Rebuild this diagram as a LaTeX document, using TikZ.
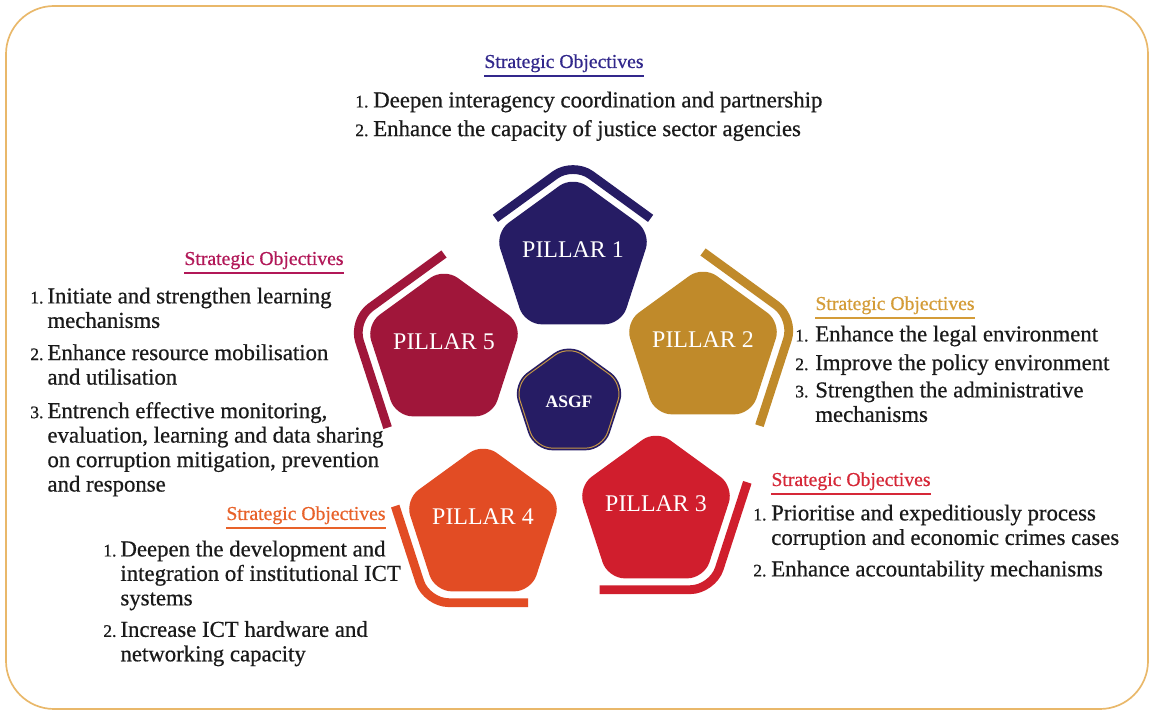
\documentclass[tikz,border=0pt]{standalone}
\usepackage{fontspec}
\setmainfont{Liberation Serif}
\newfontfamily\objfont{Liberation Serif}[FakeBold=0.6]
\usetikzlibrary{calc,shapes.geometric}
\definecolor{pillarnavy}{RGB}{38,28,100}
\definecolor{pillargold}{RGB}{192,138,42}
\definecolor{pillarred}{RGB}{208,30,45}
\definecolor{pillarorange}{RGB}{226,76,36}
\definecolor{pillarcrimson}{RGB}{160,22,58}
\definecolor{asgfgold}{RGB}{196,150,70}
\definecolor{framegold}{RGB}{233,184,106}
\definecolor{headnavy}{RGB}{50,40,140}
\definecolor{headcrimson}{RGB}{178,24,88}
\definecolor{headgold}{RGB}{212,156,56}
\definecolor{headred}{RGB}{214,40,56}
\definecolor{headorange}{RGB}{232,98,42}
\definecolor{bodytext}{RGB}{26,26,26}
\newcommand{\objnum}[1]{{\fontsize{12.5}{14}\selectfont #1.}}
\newcommand{\pillarlabel}[1]{\makebox[0pt]{\smash{#1}}}

\begin{document}
\begin{tikzpicture}[x=0.025cm, y=0.025cm,
        pillar/.style={regular polygon, regular polygon sides=5, minimum size=4.1cm, inner sep=0pt, rounded corners=0.42cm, text=white, font=\fontsize{17}{20}\selectfont},
        bracket/.style={line width=0.22cm, rounded corners=0.55cm},
        heading/.style={font=\objfont\fontsize{14}{16}\selectfont, inner xsep=0pt, inner ysep=2.5pt, anchor=base},
        underline/.style={line width=2pt},
        objectives/.style={font=\objfont\fontsize{16.2}{17.4}\selectfont, text=bodytext, inner sep=0pt, anchor=north west}]

            \useasboundingbox (0,0) rectangle (1154,714);
            \draw[framegold, line width=1.2pt, rounded corners=1.2cm, fill=white] (6,5) rectangle (1148,708);

            % The five pillars round the centre
            \node[pillar, fill=pillarnavy] (p1) at (573,456) {\pillarlabel{PILLAR 1}};
            \node[pillar, fill=pillargold] (p2) at (703,366) {\pillarlabel{PILLAR 2}};
            \node[pillar, fill=pillarred] (p3) at (656,202) {\pillarlabel{PILLAR 3}};
            \node[pillar, fill=pillarorange] (p4) at (483,189) {\pillarlabel{PILLAR 4}};
            \node[pillar, fill=pillarcrimson] (p5) at (444,364) {\pillarlabel{PILLAR 5}};
            \node[pillar, minimum size=2.85cm, fill=pillarnavy, draw=pillarnavy, double=asgfgold, double distance=0.7pt, line width=1.2pt, font=\bfseries\fontsize{12.5}{14}\selectfont] (asgf) at (569,312) {ASGF};

            % Outer brackets of the pillars
            \begin{scope}[shift={(p1)}]
                \draw[bracket, pillarnavy] ($(90:96)!0.85!(162:96)$) -- (90:96) -- ($(90:96)!0.85!(18:96)$);
            \end{scope}
            \begin{scope}[shift={(p2)}]
                \draw[bracket, pillargold] (90:96) -- (18:96) -- (-54:96);
            \end{scope}
            \begin{scope}[shift={(p3)}]
                \draw[bracket, pillarred] (18:96) -- (-54:96) -- (-126:96);
            \end{scope}
            \begin{scope}[shift={(p4)}]
                \draw[bracket, pillarorange] ($(-126:96)!0.9!(162:96)$) -- (-126:96) -- ($(-126:96)!0.9!(-54:96)$);
            \end{scope}
            \begin{scope}[shift={(p5)}]
                \draw[bracket, pillarcrimson] (90:96) -- (162:96) -- (-126:96);
            \end{scope}

            % Headings
            \node[heading, text=headnavy] (h1) at (564,646) {Strategic Objectives};
            \node[heading, text=headgold] (h2) at (895,404) {Strategic Objectives};
            \node[heading, text=headred] (h3) at (851,228) {Strategic Objectives};
            \node[heading, text=headorange] (h4) at (306,194) {Strategic Objectives};
            \node[heading, text=headcrimson] (h5) at (264,449) {Strategic Objectives};
            \path
                (h1.south west) edge[underline, headnavy] (h1.south east)
                (h2.south west) edge[underline, headgold] (h2.south east)
                (h3.south west) edge[underline, headred] (h3.south east)
                (h4.south west) edge[underline, headorange] (h4.south east)
                (h5.south west) edge[underline, headcrimson] (h5.south east);

            % Objectives of each pillar
            \node[objectives] (o1) at (355,624) {\begin{tabular}{@{}p{0.45cm}@{}l@{}}
                \objnum{1} & Deepen interagency coordination and partnership\\[3pt]
                \objnum{2} & Enhance the capacity of justice sector agencies
            \end{tabular}};
            \node[objectives] (o2) at (795,390) {\begin{tabular}{@{}p{0.5cm}@{}l@{}}
                \objnum{1} & Enhance the legal environment\\[3pt]
                \objnum{2} & Improve the policy environment\\[2pt]
                \objnum{3} & Strengthen the administrative\\
                & mechanisms
            \end{tabular}};
            \node[objectives] (o3) at (753,211) {\begin{tabular}{@{}p{0.45cm}@{}l@{}}
                \objnum{1} & Prioritise and expeditiously process\\
                & corruption and economic crimes cases\\[5pt]
                \objnum{2} & Enhance accountability mechanisms
            \end{tabular}};
            \node[objectives] (o4) at (103,175) {\begin{tabular}{@{}p{0.43cm}@{}l@{}}
                \objnum{1} & Deepen the development and\\
                & integration of institutional ICT\\
                & systems\\[5pt]
                \objnum{2} & Increase ICT hardware and\\
                & networking capacity
            \end{tabular}};
            \node[objectives] (o5) at (30,428) {\begin{tabular}{@{}p{0.43cm}@{}l@{}}
                \objnum{1} & Initiate and strengthen learning\\
                & mechanisms\\[5.5pt]
                \objnum{2} & Enhance resource mobilisation\\
                & and utilisation\\[6.5pt]
                \objnum{3} & Entrench effective monitoring,\\
                & evaluation, learning and data sharing\\
                & on corruption mitigation, prevention\\
                & and response
            \end{tabular}};

    \end{tikzpicture}
\end{document}
